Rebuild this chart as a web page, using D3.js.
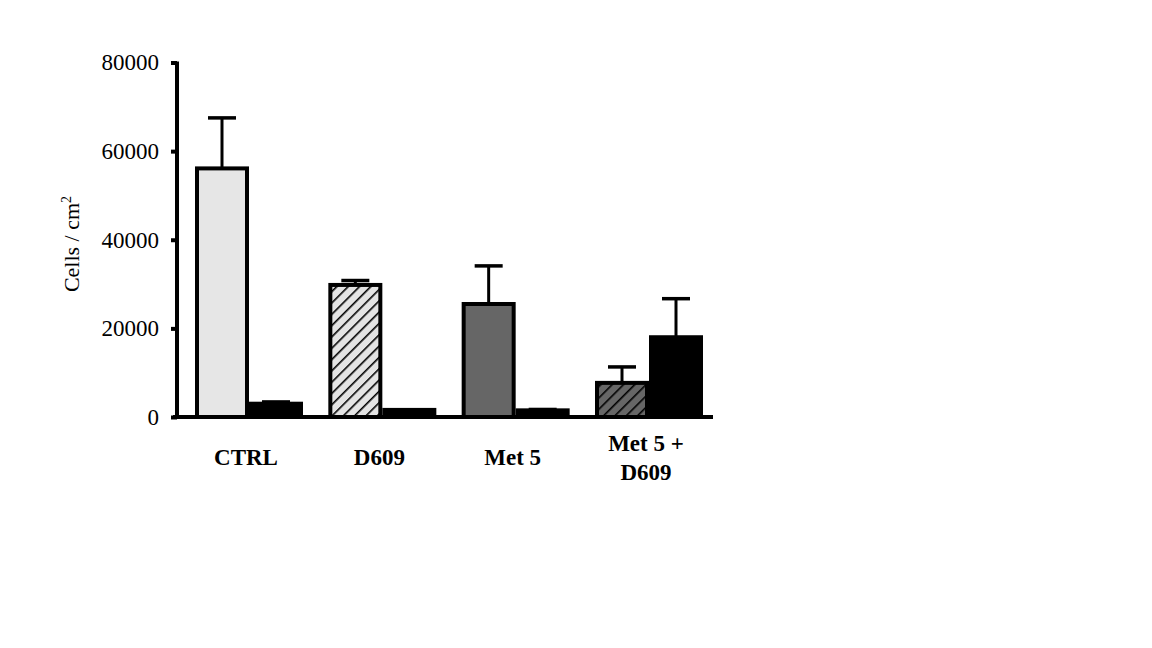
<!DOCTYPE html>
<html>
<head>
<meta charset="utf-8">
<script src="https://cdn.jsdelivr.net/npm/d3@7"></script>
<style>
  html, body { margin: 0; padding: 0; background: #fff; }
  svg { display: block; }
</style>
</head>
<body>
<svg id="chart" width="1152" height="648"></svg>
<script>
const categories = ["CTRL", "D609", "Met 5", "Met 5 + D609"];
const categoryLines = [["CTRL"], ["D609"], ["Met 5"], ["Met 5 +", "D609"]];
const seriesA = [56100, 29800, 25500, 7700];
const seriesAErr = [11400, 1000, 8600, 3600];
const seriesB = [3000, 1600, 1500, 18000];
const seriesBErr = [400, 0, 200, 8700];
const yTicks = [0, 20000, 40000, 60000, 80000];
const yLabel = "Cells / cm";

const svg = d3.select("#chart");
const defs = svg.append("defs");

function hatch(id, bg) {
  const s = 8;
  const p = defs.append("pattern")
    .attr("id", id)
    .attr("patternUnits", "userSpaceOnUse")
    .attr("width", s).attr("height", s)
    .attr("patternTransform", "rotate(45)");
  p.append("rect").attr("width", s).attr("height", s).attr("fill", bg);
  p.append("line").attr("x1", 0).attr("y1", 0).attr("x2", 0).attr("y2", s)
    .attr("stroke", "#000").attr("stroke-width", 3.2);
}
hatch("hatchLight", "#e4e4e4");
hatch("hatchDark", "#666666");

const fillsA = ["#e6e6e6", "url(#hatchLight)", "#666666", "url(#hatchDark)"];

const y = d3.scaleLinear().domain([0, 80000]).range([417, 62.5]);
const x = d3.scaleBand().domain(categories).range([183, 715])
  .paddingInner(0.19).paddingOuter(0.09);
const sub = d3.scaleBand().domain(["A", "B"]).range([0, x.bandwidth()]);

// y axis
const yAxis = svg.append("g")
  .attr("transform", "translate(177,0)")
  .call(d3.axisLeft(y).tickValues(yTicks).tickSize(6).tickSizeOuter(0).tickPadding(12)
    .tickFormat(d3.format("d")));
yAxis.select(".domain").attr("stroke", "#000").attr("stroke-width", 4)
  .attr("d", `M0,${y(80000) - 1}V${y(0) + 2}`);
yAxis.selectAll(".tick line").attr("stroke", "#000").attr("stroke-width", 4);
yAxis.selectAll(".tick text")
  .attr("font-family", "'Liberation Serif', 'Times New Roman', serif")
  .attr("font-size", 23).attr("fill", "#000");

// bars
const data = categories.map((c, i) => ({c, i}));
const bw = sub.bandwidth();
const sw = 4;

function drawErr(cx, top, errTop) {
  if (errTop <= 0) return;
  svg.append("line").attr("x1", cx).attr("x2", cx)
    .attr("y1", y(top)).attr("y2", y(top + errTop))
    .attr("stroke", "#000").attr("stroke-width", 3);
  svg.append("line").attr("x1", cx - 14).attr("x2", cx + 14)
    .attr("y1", y(top + errTop)).attr("y2", y(top + errTop))
    .attr("stroke", "#000").attr("stroke-width", 3.5);
}

data.forEach(d => {
  const x0 = x(d.c);
  // series A
  const xa = x0 + sub("A");
  drawErr(xa + bw / 2, seriesA[d.i], seriesAErr[d.i]);
  svg.append("rect")
    .attr("x", xa + sw / 2).attr("y", y(seriesA[d.i]))
    .attr("width", bw - sw).attr("height", y(0) - y(seriesA[d.i]))
    .attr("fill", fillsA[d.i]).attr("stroke", "#000").attr("stroke-width", sw);
  // series B
  const xb = x0 + sub("B");
  drawErr(xb + bw / 2, seriesB[d.i], seriesBErr[d.i]);
  svg.append("rect")
    .attr("x", xb + sw / 2).attr("y", y(seriesB[d.i]))
    .attr("width", bw - sw).attr("height", y(0) - y(seriesB[d.i]))
    .attr("fill", "#000").attr("stroke", "#000").attr("stroke-width", sw);
});

// x axis baseline
svg.append("line").attr("x1", 173).attr("x2", 713)
  .attr("y1", y(0)).attr("y2", y(0))
  .attr("stroke", "#000").attr("stroke-width", 4);

// category labels
data.forEach(d => {
  const lines = categoryLines[d.i];
  const cx = x(d.c) + x.bandwidth() / 2 - 3;
  const t = svg.append("text")
    .attr("text-anchor", "middle")
    .attr("font-family", "'Liberation Serif', 'Times New Roman', serif")
    .attr("font-weight", "bold").attr("font-size", 23).attr("fill", "#000");
  if (lines.length === 1) {
    t.append("tspan").attr("x", cx).attr("y", 465).text(lines[0]);
  } else {
    t.append("tspan").attr("x", cx).attr("y", 451).text(lines[0]);
    t.append("tspan").attr("x", cx).attr("y", 480).text(lines[1]);
  }
});

// y label
const yl = svg.append("text")
  .attr("transform", "translate(79,244) rotate(-90)")
  .attr("text-anchor", "middle")
  .attr("font-family", "'Liberation Serif', 'Times New Roman', serif")
  .attr("font-size", 22).attr("fill", "#000");
yl.append("tspan").text(yLabel);
yl.append("tspan").attr("font-size", 14).attr("dy", -8).text("2");
</script>
</body>
</html>
